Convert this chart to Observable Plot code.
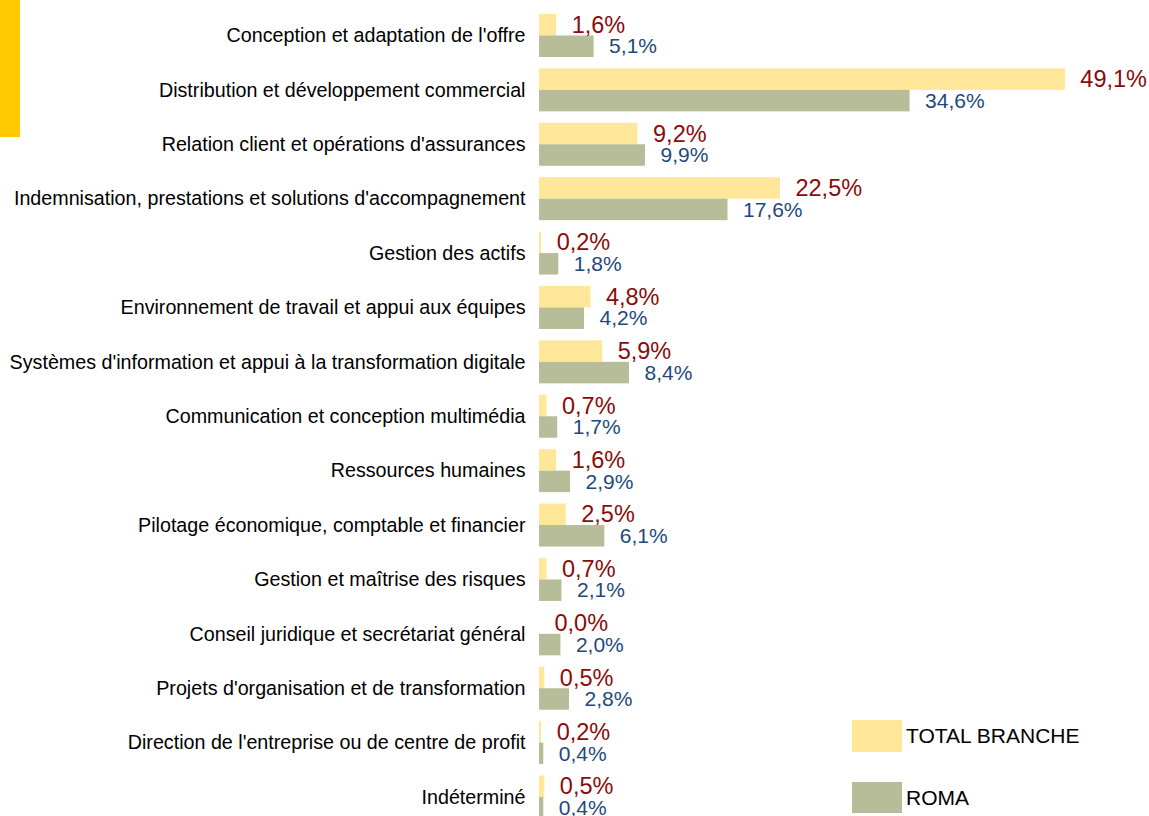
<!DOCTYPE html>
<html><head><meta charset="utf-8">
<script src="https://cdn.jsdelivr.net/npm/d3@7"></script>
<script src="https://cdn.jsdelivr.net/npm/@observablehq/plot@0.6"></script>
<style>
html,body{margin:0;padding:0;background:#fff;overflow:hidden;}
#wrap{position:relative;width:1149px;height:816px;overflow:hidden;}
#accent{position:absolute;left:0;top:0;width:20px;height:137px;background:#FFC800;}
#chart{position:absolute;left:0;top:0;}
.lg{position:absolute;left:852px;width:50px;}
.lt{position:absolute;left:906px;font-family:"Liberation Sans",Arial,sans-serif;font-size:21px;color:#000;line-height:24px;}
</style></head><body>
<div id="wrap">
  <div id="accent"></div>
  <div id="chart"></div>
  <div class="lg" id="sw0" style="top:720px;height:32px;"></div>
  <div class="lt" id="lt0" style="top:724px;"></div>
  <div class="lg" id="sw1" style="top:782px;height:31px;"></div>
  <div class="lt" id="lt1" style="top:786px;"></div>
</div>
<script>
const categories = [
  "Conception et adaptation de l'offre",
  "Distribution et développement commercial",
  "Relation client et opérations d'assurances",
  "Indemnisation, prestations et solutions d'accompagnement",
  "Gestion des actifs",
  "Environnement de travail et appui aux équipes",
  "Systèmes d'information et appui à la transformation digitale",
  "Communication et conception multimédia",
  "Ressources humaines",
  "Pilotage économique, comptable et financier",
  "Gestion et maîtrise des risques",
  "Conseil juridique et secrétariat général",
  "Projets d'organisation et de transformation",
  "Direction de l'entreprise ou de centre de profit",
  "Indéterminé"
];
const series = ["TOTAL BRANCHE", "ROMA"];
const totalBranche = [1.6, 49.1, 9.2, 22.5, 0.2, 4.8, 5.9, 0.7, 1.6, 2.5, 0.7, 0.0, 0.5, 0.2, 0.5];
const roma = [5.1, 34.6, 9.9, 17.6, 1.8, 4.2, 8.4, 1.7, 2.9, 6.1, 2.1, 2.0, 2.8, 0.4, 0.4];
const barColors = ["#FFE699", "#B7BC99"];
const labelColors = ["#8B0A0A", "#1F497D"];

const tData = categories.map((c, i) => ({category: c, series: series[0], value: totalBranche[i]}));
const rData = categories.map((c, i) => ({category: c, series: series[1], value: roma[i]}));
const fmt = v => v.toFixed(1).replace(".", ",") + "%";

const chart = Plot.plot({
  width: 1149,
  height: 820,
  marginLeft: 539,
  marginRight: 74.5,
  marginTop: 14,
  marginBottom: 1.5,
  style: {fontFamily: "'Liberation Sans', Arial, sans-serif", background: "transparent", overflow: "visible"},
  x: {domain: [0, 50], axis: null},
  y: {domain: categories, paddingInner: 0.21, paddingOuter: 0, round: false, axis: null},
  marks: [
    Plot.axisY({tickSize: 0, tickPadding: 14, label: null, fontSize: 19.7, fill: "#000"}),
    Plot.barX(tData, {y: "category", x: "value", fill: barColors[0], insetBottom: 21.5}),
    Plot.barX(rData, {y: "category", x: "value", fill: barColors[1], insetTop: 21.5}),
    Plot.text(tData, {y: "category", x: "value", text: d => fmt(d.value), textAnchor: "start", dx: 15, dy: -10.75,
      fill: labelColors[0], fontSize: 23.5}),
    Plot.text(rData, {y: "category", x: "value", text: d => fmt(d.value), textAnchor: "start", dx: 15, dy: 10.75,
      fill: labelColors[1], fontSize: 21})
  ]
});
document.getElementById("chart").appendChild(chart);
document.getElementById("sw0").style.background = barColors[0];
document.getElementById("sw1").style.background = barColors[1];
document.getElementById("lt0").textContent = series[0];
document.getElementById("lt1").textContent = series[1];
</script>
</body></html>
